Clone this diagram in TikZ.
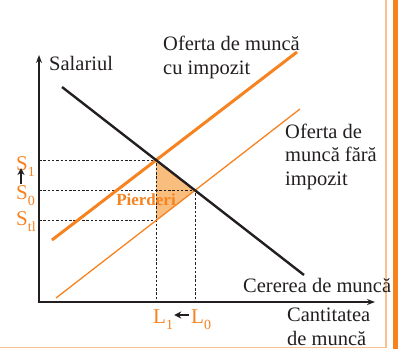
\documentclass[tikz,border=0pt]{standalone}
\usepackage{fontspec}
\setmainfont{Liberation Serif}
\usetikzlibrary{arrows.meta,intersections,calc}
\definecolor{myorange}{RGB}{246,130,32}
\definecolor{lightorange}{RGB}{250,192,143}
\definecolor{fillorange}{RGB}{249,190,125}
\definecolor{ink}{RGB}{35,31,32}
\newcommand{\lowidx}[1]{\raisebox{-0.33em}{\fontsize{14}{14}\selectfont #1}}
\begin{document}
\begin{tikzpicture}[x=1pt,y=-1pt,
  lbl/.style={font=\fontsize{20.5}{23.5}\selectfont, text=ink, inner sep=0pt, align=left, anchor=base west},
  olbl/.style={font=\fontsize{21}{21}\selectfont, text=myorange, inner sep=0pt, anchor=base west},
  axisline/.style={line width=1.6pt, draw=ink, {Stealth[length=8pt,width=6pt]}-{Stealth[length=8pt,width=6pt]}},
  guide/.style={dash pattern=on 2.5pt off 1.8pt, line width=0.9pt, draw=ink},
  demand/.style={line width=2.4pt, draw=ink},
  taxsup/.style={line width=3pt, draw=myorange},
  freesup/.style={line width=1.3pt, draw=myorange},
  smallarrow/.style={line width=1.3pt, draw=ink, -{Stealth[length=7pt,width=7pt]}}
]
\useasboundingbox (0,0) rectangle (398,349);

% frame
\draw[lightorange, line width=1.8pt] (386,-1) -- (386,347.5) -- (-1,347.5);
\fill[myorange] (393,0) rectangle (398,349);

% key points
\coordinate (O) at (39,302);
\coordinate (Ytop) at (39,55);
\coordinate (Xend) at (375,302);
\coordinate (d1) at (62,87);
\coordinate (d2) at (304,275);
\coordinate (s1) at (52,240);
\coordinate (s2) at (297,52);
\coordinate (f1) at (56,298);
\coordinate (f2) at (300,109);

\path[name path=dem] (d1) -- (d2);
\path[name path=tax] (s1) -- (s2);
\path[name path=free] (f1) -- (f2);
\path[name intersections={of=dem and tax, by=E1}];
\path[name intersections={of=dem and free, by=E0}];
\path[name path=vert] (E1) -- (E1 |- O);
\path[name intersections={of=vert and free, by=Et}];

% loss triangle
\fill[fillorange] (E1) -- (E0) -- (Et) -- cycle;

% guides
\draw[guide] (O |- E1) -- (E1) -- (E1 |- O);
\draw[guide] (O |- E0) -- (E0) -- (E0 |- O);
\draw[guide] (O |- Et) -- (Et);

% curves
\draw[freesup] (f1) -- (f2);
\draw[taxsup] (s1) -- (s2);
\draw[demand] (d1) -- (d2);

% axes
\draw[axisline] (Ytop) -- (O) -- (Xend);

% labels (multi-line nodes are anchored at the baseline of their last line)
\node[lbl] (sal) at (49,70) {Salariul};
\node[lbl] (oft) at (163,74) {Oferta de muncă\\cu impozit};
\node[lbl] (ofn) at (285,185) {Oferta de\\muncă fără\\impozit};
\node[lbl] (cer) at (243,292) {Cererea de muncă};
\node[lbl] (cant) at (287,345) {Cantitatea\\de muncă};
\node[font=\bfseries\fontsize{17}{17}\selectfont, text=myorange, inner sep=0pt] (pier) at (146,200) {Pierderi};

\node[olbl] (S1) at (16,170) {S\lowidx{1}};
\node[olbl] (S0) at (16,199) {S\lowidx{0}};
\node[olbl] (St) at (16,225) {S\lowidx{tl}};
\node[olbl] (L1) at (153,323) {L\lowidx{1}};
\node[olbl] (L0) at (191,323) {L\lowidx{0}};

\coordinate (sa) at ([xshift=5pt,yshift=1pt]S0.north west);
\draw[smallarrow] (sa) -- ([yshift=2pt]sa |- S1.base);
\draw[smallarrow] ([yshift=8pt,xshift=-2pt]L0.base west) -- ([yshift=8pt,xshift=1pt]L1.base east);
\end{tikzpicture}
\end{document}
